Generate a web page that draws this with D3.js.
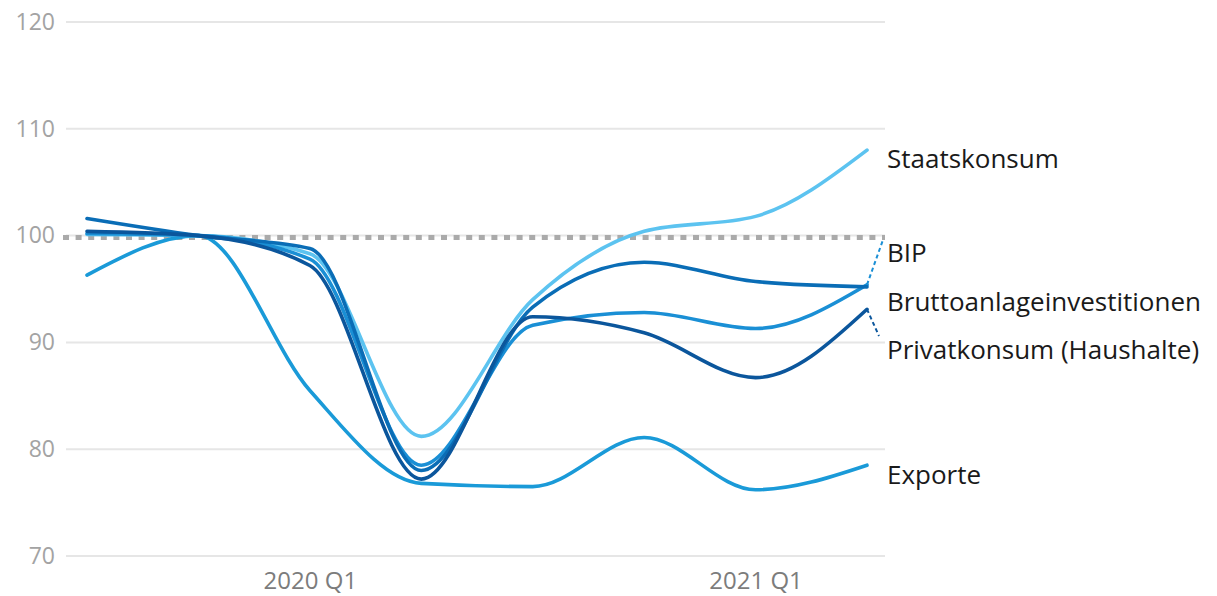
<!DOCTYPE html>
<html>
<head>
<meta charset="utf-8">
<script src="https://cdnjs.cloudflare.com/ajax/libs/d3/7.8.5/d3.min.js"></script>
<style>
  body { margin: 0; background: #fff; }
  svg text { font-family: "Open Sans", "Noto Sans", sans-serif; }
</style>
</head>
<body>
<div id="chart"></div>
<script>
// Quarters (index 2019 Q4 = 100)
const quarters = ["2019 Q3", "2019 Q4", "2020 Q1", "2020 Q2", "2020 Q3", "2020 Q4", "2021 Q1", "2021 Q2"];
const xTickLabels = ["2020 Q1", "2021 Q1"];
const yTicks = [70, 80, 90, 100, 110, 120];

const staatskonsum = [100.1, 100, 98.3, 81.2, 94.0, 100.4, 101.8, 108.0];
const bip = [100.2, 100, 97.8, 78.5, 91.6, 92.8, 91.3, 95.4];
const bruttoanlage = [101.6, 100, 98.8, 78.0, 93.3, 97.5, 95.7, 95.2];
const privatkonsum = [100.4, 100, 97.2, 77.2, 92.4, 90.9, 86.7, 93.1];
const exporte = [96.3, 100, 85.5, 76.8, 76.5, 81.1, 76.2, 78.5];

const width = 1217;
const height = 596;

const series = [
  { name: "Exporte", values: exporte, color: "#1a9ad8", labelY: 77.6 },
  { name: "Staatskonsum", values: staatskonsum, color: "#5cc3f0", labelY: 107.2 },
  { name: "BIP", values: bip, color: "#1a8fd5", labelY: 98.4, leader: [99.6] },
  { name: "Bruttoanlageinvestitionen", values: bruttoanlage, color: "#0a6db6", labelY: 93.8 },
  { name: "Privatkonsum (Haushalte)", values: privatkonsum, color: "#0b569c", labelY: 89.3, leader: [90.6] }
];

// Scales
const x = d3.scalePoint()
    .domain(quarters)
    .range([87, 867]);

const y = d3.scaleLinear()
    .domain([70, 120])
    .range([556, 22]);

const svg = d3.select("#chart")
  .append("svg")
    .attr("width", width)
    .attr("height", height);

// Grid
svg.append("g")
  .selectAll("line")
  .data(yTicks)
  .join("line")
    .attr("x1", 66)
    .attr("x2", 885)
    .attr("y1", d => y(d))
    .attr("y2", d => y(d))
    .attr("stroke", "#e6e6e6")
    .attr("stroke-width", 2);

// Y axis labels
const yAxis = svg.append("g")
    .attr("transform", "translate(55,0)")
    .call(d3.axisLeft(y).tickValues(yTicks).tickSize(0).tickPadding(0));
yAxis.select(".domain").remove();
yAxis.selectAll("text")
    .attr("fill", "#a3a3a3")
    .style("font-size", "23px")
    .style("font-family", "'Open Sans', sans-serif");

// X axis labels
const xAxis = svg.append("g")
    .attr("transform", "translate(0,572)")
    .call(d3.axisBottom(x).tickValues(xTickLabels).tickSize(0).tickPadding(0));
xAxis.select(".domain").remove();
xAxis.selectAll("text")
    .attr("fill", "#7c7c7c")
    .attr("dy", "0.71em")
    .style("font-size", "24px")
    .style("font-family", "'Open Sans', sans-serif");

// Index 100 reference line
svg.append("line")
    .attr("x1", 63)
    .attr("x2", 885)
    .attr("y1", y(100) + 2)
    .attr("y2", y(100) + 2)
    .attr("stroke", "#aaaaaa")
    .attr("stroke-width", 5)
    .attr("stroke-dasharray", "6,6.6");

// Lines
const line = d3.line()
    .x((d, i) => x(quarters[i]))
    .y(d => y(d))
    .curve(d3.curveMonotoneX);

svg.append("g")
  .selectAll("path")
  .data(series)
  .join("path")
    .attr("d", d => line(d.values))
    .attr("fill", "none")
    .attr("stroke", d => d.color)
    .attr("stroke-width", 3.6)
    .attr("stroke-linecap", "round");

// Leader lines
const last = quarters[quarters.length - 1];
svg.append("g")
  .selectAll("line")
  .data(series.filter(d => d.leader))
  .join("line")
    .attr("x1", x(last))
    .attr("y1", d => y(d.values[d.values.length - 1]))
    .attr("x2", d => x(last) + (d.name === "BIP" ? 16 : 12))
    .attr("y2", d => y(d.leader[0]))
    .attr("stroke", d => d.color)
    .attr("stroke-width", 2)
    .attr("stroke-dasharray", "4,3");

// Labels
svg.append("g")
  .selectAll("text")
  .data(series)
  .join("text")
    .attr("x", 887)
    .attr("y", d => y(d.labelY))
    .attr("dy", "0.35em")
    .attr("fill", "#1a1a1a")
    .style("font-size", "26px")
    .text(d => d.name);
</script>
</body>
</html>
